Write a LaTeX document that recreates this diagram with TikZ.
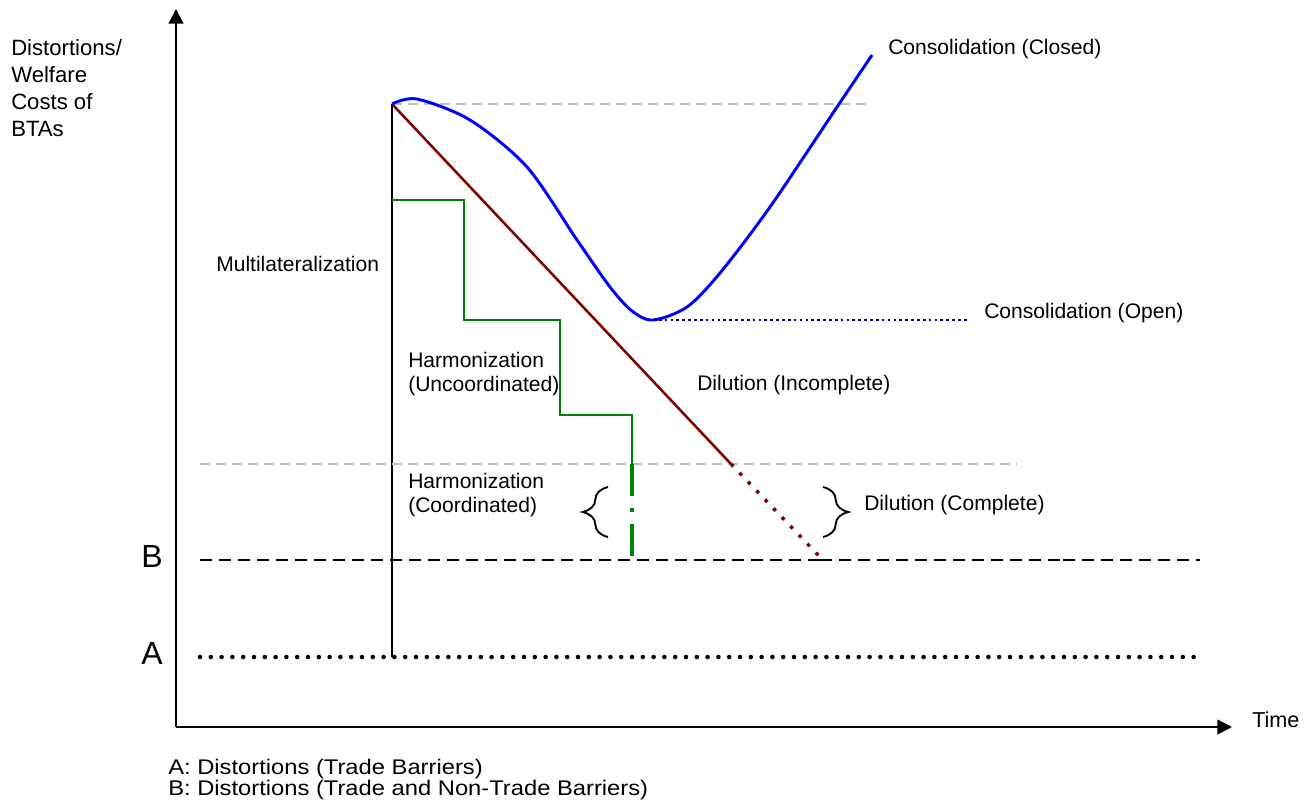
\documentclass[tikz,border=0pt]{standalone}
\usepackage{fontspec}
\setmainfont{Liberation Sans}
\newfontfamily\legendfont[FakeStretch=1.12]{Liberation Sans}
\usetikzlibrary{arrows.meta,decorations.pathreplacing}

\begin{document}
\begin{tikzpicture}[x=0.75pt,y=-0.75pt,
    lbl/.style={anchor=base west,inner sep=0pt,font=\fontsize{15.8}{19}\selectfont},
    legend/.style={anchor=base west,inner sep=0pt,font=\legendfont\fontsize{15.9}{19}\selectfont},
    level/.style={anchor=base east,inner sep=0pt,font=\fontsize{24}{28}\selectfont},
    axis/.style={line width=1.7pt,-{Triangle[length=11pt,width=11pt]}},
    guide/.style={black!25,line width=0.8pt,dash pattern=on 7.5pt off 4.5pt},
    stair/.style={green!50!black,line width=1.9pt},
    curlybrace/.style={decorate,decoration={brace,amplitude=19pt},line width=1.4pt}]

      \useasboundingbox (0,0) rectangle (1305,807);

      % axes
      \coordinate (O) at (176,727);
      \coordinate (ytop) at (176,9);
      \coordinate (xend) at (1232,727);
      \draw[axis] (O) -- (ytop);
      \draw[axis] (O) -- (xend);
      \node[lbl,font=\fontsize{16.2}{19}\selectfont] (time) at (1252,727) {Time};

      \node[lbl,font=\fontsize{16.6}{20}\selectfont] (ylab1) at (11,55) {Distortions/};
      \node[lbl,font=\fontsize{16.6}{20}\selectfont] (ylab2) at (11,82) {Welfare};
      \node[lbl,font=\fontsize{16.6}{20}\selectfont] (ylab3) at (11,109) {Costs of};
      \node[lbl,font=\fontsize{16.6}{20}\selectfont] (ylab4) at (11,136) {BTAs};

      % the two levels A and B
      \coordinate (A0) at (200,657);
      \coordinate (A1) at (1204,657);
      \draw[line width=3.4pt,line cap=round,dash pattern=on 0pt off 8.1pt] (A0) -- (A1);
      \node[level] (labA) at (163,664) {A};

      \coordinate (B0) at (200,560);
      \coordinate (Bm) at (820,560);
      \coordinate (Bn) at (1063,560);
      \coordinate (B1) at (1200,560);
      \draw[line width=1.9pt,dash pattern=on 9pt off 5.25pt] (B0) -- (Bm);
      \draw[line width=1.3pt,dash pattern=on 9pt off 5.25pt] (Bm) -- (Bn);
      \draw[line width=1.9pt,dash pattern=on 9pt off 5.25pt] (Bn) -- (B1);
      \node[level] (labB) at (163,567) {B};

      % start of the BTA
      \coordinate (peak) at (392,104);
      \coordinate (foot) at (392,657);
      \draw[line width=1.8pt] (peak) -- (foot);
      \node[lbl] (multi) at (216,271) {Multilateralization};

      % grey guide lines
      \draw[guide] (peak) -- (872,104);
      \draw[guide] (200,464) -- (1017,464);

      % dilution
      \coordinate (cross) at (731,464);
      \coordinate (dilend) at (820,557);
      \draw[red!50!black,line width=1.9pt] (peak) -- (cross);
      \draw[red!50!black,line width=2.6pt,dash pattern=on 2.6pt off 6.6pt] (cross) -- (dilend);
      \node[lbl] (dilinc) at (697,390) {Dilution (Incomplete)};
      \node[lbl] (dilcom) at (864,510) {Dilution (Complete)};
      \draw[curlybrace] (823,487) -- (823,537);

      % harmonization
      \draw[stair] (392,200) -| (464,320) -| (560,415) -| (632,464);
      \draw[green!50!black,line width=3pt,dash pattern=on 24pt off 9pt on 3pt off 9pt] (632,464) -- (632,556);
      \node[lbl] (harmu1) at (408,367) {Harmonization};
      \node[lbl] (harmu2) at (408,391) {(Uncoordinated)};
      \node[lbl] (harmc1) at (408,488) {Harmonization};
      \node[lbl] (harmc2) at (408,512) {(Coordinated)};
      \draw[curlybrace] (608,537) -- (608,487);

      % consolidation
      \coordinate (vmin) at (653,320);
      \coordinate (vopen) at (968,320);
      \draw[blue,line width=2.2pt] plot[smooth,tension=0.5] coordinates {
        (392,104) (417,99) (470,120) (527,167) (577,240) (610,287) (632,311)
        (653,320) (687,307) (720,273) (770,207) (837,107) (872,55)};
      \draw[blue!60!black,line width=2pt,dash pattern=on 2pt off 2.4pt] (vmin) -- (vopen);
      \node[lbl] (conclo) at (888,54) {Consolidation (Closed)};
      \node[lbl] (conopen) at (984,318) {Consolidation (Open)};

      % legend
      \node[legend] (legA) at (168,774) {A: Distortions (Trade Barriers)};
      \node[legend] (legB) at (168,795) {B: Distortions (Trade and Non-Trade Barriers)};

    \end{tikzpicture}
\end{document}
